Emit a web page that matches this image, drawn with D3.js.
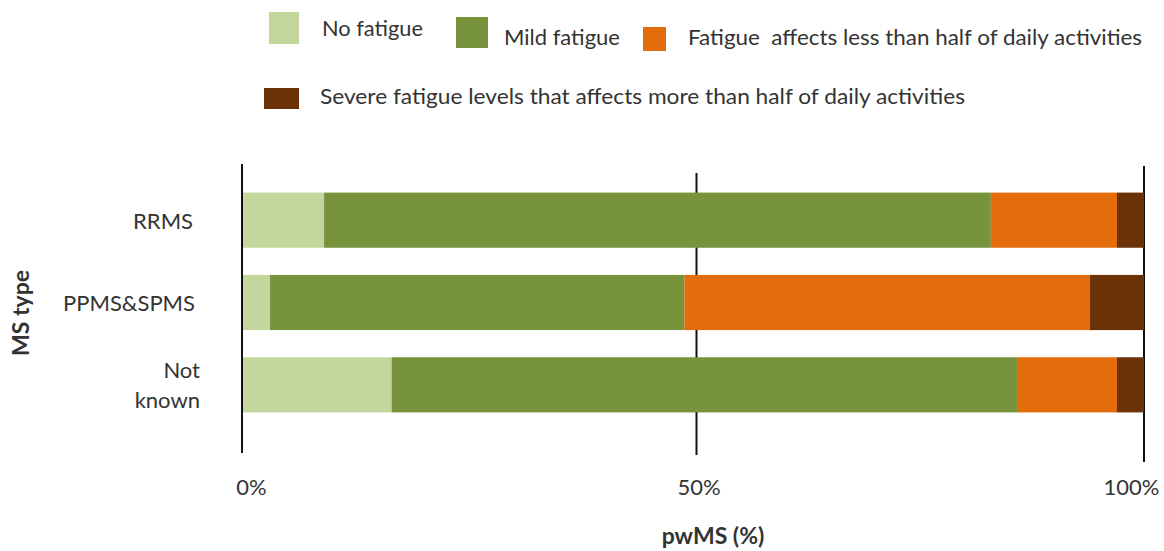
<!DOCTYPE html>
<html><head><meta charset="utf-8">
<script src="https://cdn.jsdelivr.net/npm/d3@7"></script>
<style>body{margin:0;background:#fff}svg{display:block}text{font-family:Lato,"Open Sans",sans-serif;fill:#333}</style>
</head><body>
<svg id="c" width="1164" height="551"></svg>
<script>
const categories = ["RRMS", "PPMS&SPMS", "Not known"];
const seriesNames = ["No fatigue", "Mild fatigue", "Fatigue  affects less than half of daily activities", "Severe fatigue levels that affects more than half of daily activities"];
const noFatigue = [9, 3, 16.5];
const mildFatigue = [74, 46, 69.5];
const lessHalf = [14, 45, 11];
const moreHalf = [3, 6, 3];
const tickValues = [0, 50, 100];
const tickLabels = ["0%", "50%", "100%"];
const colors = ["#c3d69b", "#77933c", "#e46c0a", "#6b3208"];

const svg = d3.select("#c");
const x = d3.scaleLinear().domain([0, 100]).range([243, 1144]);
const y = d3.scaleBand().domain(categories).range([179, 426]).paddingInner(0.33).paddingOuter(0.165);

const rows = categories.map((c, i) => ({cat: c, v: [noFatigue[i], mildFatigue[i], lessHalf[i], moreHalf[i]]}));
const keys = [0, 1, 2, 3];
const stacked = d3.stack().keys(keys).value((d, k) => d.v[k])(rows);

// gridlines
const gridShift = [-1, 3, 0];
const gridY = [[164, 453], [173, 455], [166, 462]];
svg.append("g").selectAll("line").data(tickValues).join("line")
  .attr("x1", (d, i) => x(d) + gridShift[i]).attr("x2", (d, i) => x(d) + gridShift[i])
  .attr("y1", (d, i) => gridY[i][0]).attr("y2", (d, i) => gridY[i][1])
  .attr("stroke", "#111").attr("stroke-width", 2);

// bars
svg.append("g").selectAll("g").data(stacked).join("g")
  .attr("fill", (d, i) => colors[i])
  .selectAll("rect").data(d => d).join("rect")
  .attr("x", d => x(d[0])).attr("width", d => x(d[1]) - x(d[0]))
  .attr("y", d => y(d.data.cat)).attr("height", y.bandwidth());

// x axis labels
const xa = svg.append("g").attr("transform", "translate(0,492)")
  .call(d3.axisBottom(x).tickValues(tickValues).tickSize(0).tickFormat((d, i) => tickLabels[i]));
xa.select(".domain").remove();
xa.selectAll("text").attr("font-size", 22).attr("font-family", "Lato").attr("fill", "#333")
  .attr("dy", "0").attr("dx", (d, i) => [8, 5, -13][i]);

// y category labels
const ya = svg.append("g").attr("transform", "translate(200,0)")
  .call(d3.axisLeft(y).tickSize(0));
ya.select(".domain").remove();
ya.selectAll("text").attr("font-size", 22).attr("font-family", "Lato").attr("fill", "#333")
  .each(function(d) {
    const t = d3.select(this);
    if (d === "Not known") {
      t.text(null).attr("x", 0).attr("dy", null).attr("y", 0);
      t.append("tspan").attr("x", 0).attr("y", -7).text("Not");
      t.append("tspan").attr("x", 0).attr("y", 23).text("known");
    } else {
      t.attr("x", d === "RRMS" ? -7 : -5).attr("dy", "0.4em");
    }
  });

// axis titles
svg.append("text").attr("transform", "translate(29,313) rotate(-90)")
  .attr("text-anchor", "middle").attr("font-size", 23).attr("font-weight", "bold").attr("fill", "#222").text("MS type");
svg.append("text").attr("x", 713).attr("y", 544)
  .attr("text-anchor", "middle").attr("font-size", 23).attr("font-weight", "bold").attr("fill", "#222").text("pwMS (%)");

// legend
const legend = [
  {sx: 269, sy: 12, sw: 30, sh: 32, tx: 322, ty: 36, tl: 101},
  {sx: 456, sy: 17, sw: 32, sh: 31, tx: 504, ty: 45, tl: 116},
  {sx: 643, sy: 27, sw: 23, sh: 24, tx: 688, ty: 45, tl: 454},
  {sx: 264, sy: 88, sw: 35, sh: 21, tx: 320, ty: 104, tl: 645}
];
const lg = svg.append("g").selectAll("g").data(legend).join("g");
lg.append("rect").attr("x", d => d.sx).attr("y", d => d.sy).attr("width", d => d.sw).attr("height", d => d.sh)
  .attr("fill", (d, i) => colors[i]);
lg.append("text").attr("x", d => d.tx).attr("y", d => d.ty).attr("font-size", 21)
  .attr("textLength", d => d.tl).attr("lengthAdjust", "spacingAndGlyphs")
  .style("white-space", "pre").attr("xml:space", "preserve")
  .text((d, i) => seriesNames[i]);
</script>
</body></html>
